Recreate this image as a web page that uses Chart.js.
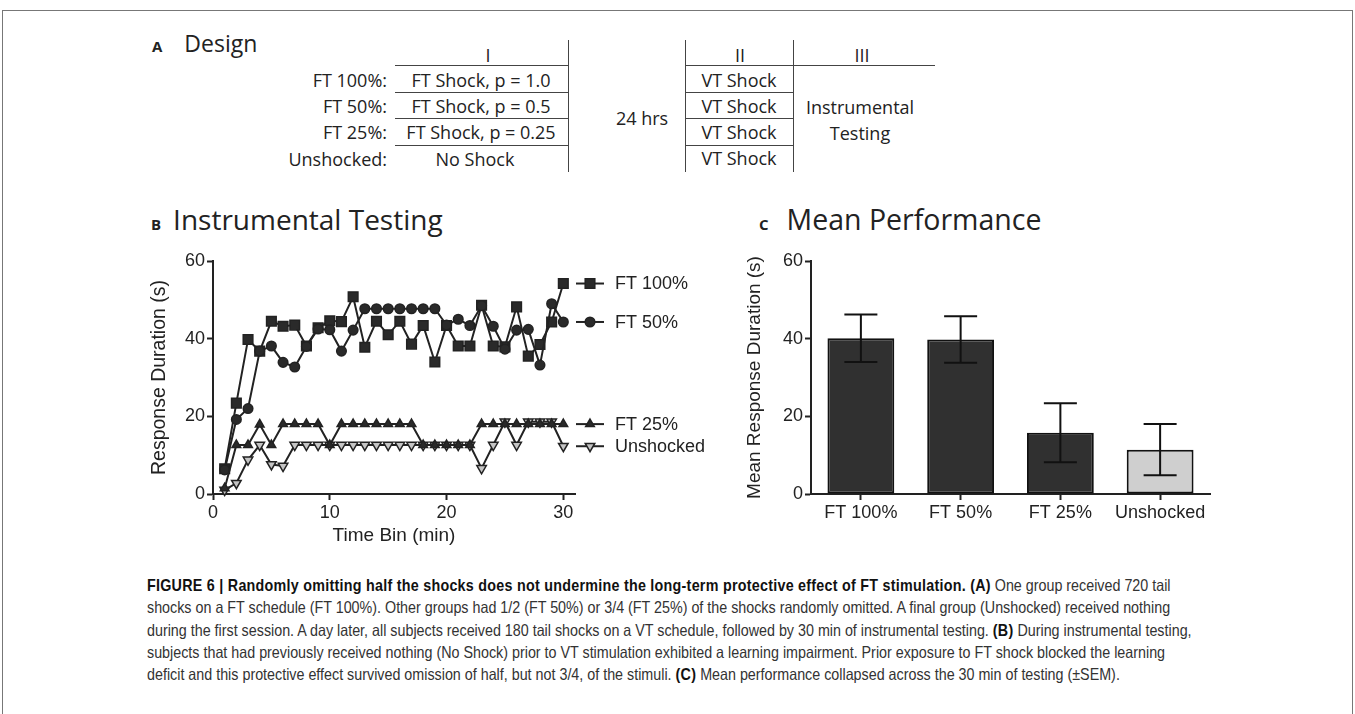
<!DOCTYPE html>
<html>
<head>
<meta charset="utf-8">
<script src="https://cdn.jsdelivr.net/npm/chart.js@4"></script>
<style>
 body { margin: 0; background: #fff; width: 1355px; height: 714px; overflow: hidden; position: relative; font-family: "Open Sans", sans-serif; color: #222; }
 .frame { position: absolute; left: 2px; top: 10px; width: 1349px; height: 720px; border: 1px solid #777; border-bottom: none; }
 .t { position: absolute; transform: translate(-50%, -50%); white-space: nowrap; font-size: 18px; }
 .r { position: absolute; transform: translate(-100%, -50%); white-space: nowrap; font-size: 18px; }
 .hl { position: absolute; height: 0; border-top: 1.5px solid #444; }
 .vl { position: absolute; width: 0; border-left: 1.5px solid #444; }
 .ptitle { position: absolute; white-space: nowrap; font-size: 28px; }
 .ptitle b { font-size: 15px; margin-right: 12px; }
 canvas { position: absolute; }
 .caption { position: absolute; left: 147px; top: 574px; font-family: "Liberation Sans Narrow", "Liberation Sans", sans-serif; font-size: 16.5px; line-height: 22.3px; color: #333; white-space: nowrap; transform: scaleX(0.867); transform-origin: 0 0; }
 .caption b { color: #111; letter-spacing: 0.3px; }
</style>
</head>
<body>
<div class="frame"></div>

<div class="ptitle" style="left:152px; top:27px; font-size:23px;"><b style="margin-right:22px;">A</b>Design</div>

<!-- design table -->
<div class="t" style="left:488px; top:55px;">I</div>
<div class="t" style="left:740px; top:55px;">II</div>
<div class="t" style="left:862px; top:55px;">III</div>

<div class="r" style="left:387px; top:80px;">FT 100%:</div>
<div class="r" style="left:387px; top:106px;">FT 50%:</div>
<div class="r" style="left:387px; top:132px;">FT 25%:</div>
<div class="r" style="left:387px; top:159px;">Unshocked:</div>

<div class="t" style="left:481px; top:80px;">FT Shock, p = 1.0</div>
<div class="t" style="left:481px; top:106px;">FT Shock, p = 0.5</div>
<div class="t" style="left:481px; top:132px;">FT Shock, p = 0.25</div>
<div class="t" style="left:475px; top:159px;">No Shock</div>

<div class="hl" style="left:395px; top:65px; width:173px;"></div>
<div class="hl" style="left:395px; top:92px; width:173px;"></div>
<div class="hl" style="left:395px; top:118px; width:173px;"></div>
<div class="hl" style="left:395px; top:145px; width:173px;"></div>
<div class="vl" style="left:568px; top:40px; height:132px;"></div>

<div class="t" style="left:642px; top:118px;">24 hrs</div>

<div class="vl" style="left:685px; top:40px; height:132px;"></div>
<div class="vl" style="left:793px; top:40px; height:132px;"></div>
<div class="hl" style="left:685px; top:65px; width:250px;"></div>
<div class="hl" style="left:685px; top:92px; width:108px;"></div>
<div class="hl" style="left:685px; top:118px; width:108px;"></div>
<div class="hl" style="left:685px; top:145px; width:108px;"></div>

<div class="t" style="left:739px; top:80px;">VT Shock</div>
<div class="t" style="left:739px; top:106px;">VT Shock</div>
<div class="t" style="left:739px; top:132px;">VT Shock</div>
<div class="t" style="left:739px; top:158px;">VT Shock</div>
<div class="t" style="left:860px; top:107px;">Instrumental</div>
<div class="t" style="left:860px; top:133px;">Testing</div>

<div class="ptitle" style="left:151px; top:200px;"><b>B</b>Instrumental Testing</div>
<div class="ptitle" style="left:759px; top:200px; font-size:28.5px;"><b style="margin-right:18px;">C</b>Mean Performance</div>

<canvas id="lineChart" style="left:130px; top:240px;" width="600" height="310"></canvas>
<canvas id="barChart" style="left:730px; top:240px;" width="500" height="310"></canvas>

<div class="caption">
<b>FIGURE 6 | Randomly omitting half the shocks does not undermine the long-term protective effect of FT stimulation. (A)</b> One group received 720 tail<br>
shocks on a FT schedule (FT 100%). Other groups had 1/2 (FT 50%) or 3/4 (FT 25%) of the shocks randomly omitted. A final group (Unshocked) received nothing<br>
during the first session. A day later, all subjects received 180 tail shocks on a VT schedule, followed by 30 min of instrumental testing. <b>(B)</b> During instrumental testing,<br>
subjects that had previously received nothing (No Shock) prior to VT stimulation exhibited a learning impairment. Prior exposure to FT shock blocked the learning<br>
deficit and this protective effect survived omission of half, but not 3/4, of the stimuli. <b>(C)</b> Mean performance collapsed across the 30 min of testing (&plusmn;SEM).
</div>

<script>
// panel B data (time bin in min, response duration in s)
const timeBins = [1, 2, 3, 4, 5, 6, 7, 8, 9, 10, 11, 12, 13, 14, 15, 16, 17, 18, 19, 20, 21, 22, 23, 24, 25, 26, 27, 28, 29, 30];
const ft100 = [6.5, 23.4, 39.8, 36.8, 44.5, 43.2, 43.5, 38.1, 42.8, 44.6, 44.4, 50.8, 37.8, 44.5, 41.0, 44.5, 38.6, 43.4, 34.0, 43.4, 38.1, 38.1, 48.6, 38.1, 37.9, 48.2, 35.5, 38.5, 44.3, 54.2];
const ft50 = [6.2, 19.2, 22.0, 36.8, 38.1, 33.9, 32.7, 38.0, 42.5, 42.3, 36.8, 42.2, 47.7, 47.7, 47.7, 47.7, 47.7, 47.7, 47.7, 43.5, 45.0, 43.4, 48.5, 43.2, 37.3, 42.2, 42.4, 33.2, 49.0, 44.3];
const ft25 = [1.5, 12.6, 12.6, 17.9, 12.6, 18.0, 18.0, 18.0, 18.0, 12.6, 18.0, 18.0, 18.0, 18.0, 18.0, 18.0, 18.0, 12.6, 12.6, 12.6, 12.6, 12.6, 18.0, 18.0, 18.0, 18.0, 18.0, 18.0, 18.0, 18.0];
const unshocked = [1.0, 2.8, 8.8, 12.6, 7.6, 7.2, 12.6, 12.6, 12.6, 12.6, 12.6, 12.6, 12.6, 12.6, 12.6, 12.6, 12.6, 12.6, 12.6, 12.6, 12.6, 12.6, 6.6, 12.6, 18.6, 12.6, 18.6, 18.6, 18.6, 12.3];

// panel C data
const groups = ['FT 100%', 'FT 50%', 'FT 25%', 'Unshocked'];
const meanDur = [40.1, 39.8, 15.8, 11.4];
const semDur = [6.1, 6.0, 7.6, 6.6];

const ink = '#222';
const fontFam = '"Liberation Sans", Arial, sans-serif';
Chart.defaults.font.family = fontFam;
Chart.defaults.font.size = 18;
Chart.defaults.color = ink;

function toPts(vals) {
 return timeBins.map((t, i) => ({ x: t, y: vals[i] }));
}

function axisStyle() {
 return {
  border: { display: true, color: ink, width: 2 },
  grid: { display: true, drawOnChartArea: false, drawTicks: true, tickLength: 6, tickWidth: 2, tickColor: ink }
 };
}

// legend drawn next to the last point of each series
const sideLegend = {
 id: 'sideLegend',
 afterDatasetsDraw(chart) {
  const ctx = chart.ctx;
  const yS = chart.scales.y;
  const x0 = chart.chartArea.right + 1;
  chart.data.datasets.forEach((ds) => {
   const last = ds.data[ds.data.length - 1].y;
   const y = yS.getPixelForValue(last);
   ctx.save();
   ctx.strokeStyle = ink;
   ctx.lineWidth = 2;
   ctx.beginPath();
   ctx.moveTo(x0, y);
   ctx.lineTo(x0 + 28, y);
   ctx.stroke();
   ctx.fillStyle = ds.pointBackgroundColor;
   ctx.strokeStyle = ink;
   ctx.lineWidth = 1.5;
   Chart.helpers.drawPoint(ctx, { pointStyle: ds.pointStyle, rotation: ds.pointRotation || 0, radius: ds.pointRadius, borderWidth: 1.5 }, x0 + 14, y);
   ctx.fillStyle = ink;
   ctx.font = '18px ' + fontFam;
   ctx.textBaseline = 'middle';
   ctx.fillText(ds.label, x0 + 39, y + 1);
   ctx.restore();
  });
 }
};

function series(label, vals, style, fill, radius, rot) {
 return {
  label: label,
  data: toPts(vals),
  borderColor: ink,
  borderWidth: 2,
  pointStyle: style,
  pointRotation: rot || 0,
  pointRadius: radius,
  pointBackgroundColor: fill,
  pointBorderColor: ink,
  pointBorderWidth: 1.5,
  tension: 0,
  clip: false
 };
}

new Chart(document.getElementById('lineChart'), {
 type: 'line',
 data: {
  datasets: [
   series('FT 25%', ft25, 'triangle', '#2a2a2a', 5),
   series('Unshocked', unshocked, 'triangle', '#c4c4c4', 5.5, 180),
   series('FT 50%', ft50, 'circle', '#2a2a2a', 4.8),
   series('FT 100%', ft100, 'rect', '#2a2a2a', 6.8)
  ]
 },
 options: {
  responsive: false,
  animation: false,
  layout: { padding: { left: 15, top: 21, right: 155, bottom: 0 } },
  plugins: { legend: { display: false }, tooltip: { enabled: false } },
  scales: {
   x: Object.assign(axisStyle(), {
    type: 'linear', min: 0, max: 31,
    ticks: { stepSize: 10, includeBounds: false, padding: 2, color: ink },
    title: { display: true, text: 'Time Bin (min)', font: { size: 19 }, color: ink, padding: { top: 2, bottom: 3 } },
    afterFit: (s) => { s.height = 56; }
   }),
   y: Object.assign(axisStyle(), {
    min: 0, max: 60,
    ticks: { stepSize: 20, padding: 2, color: ink },
    title: { display: true, text: 'Response Duration (s)', font: { size: 19.5 }, color: ink, padding: { top: 3, bottom: 2 } },
    afterFit: (s) => { s.width = 68; }
   })
  }
 },
 plugins: [sideLegend]
});

// error bars for panel C
const errorBars = {
 id: 'errorBars',
 afterDatasetsDraw(chart) {
  const ctx = chart.ctx;
  const meta = chart.getDatasetMeta(0);
  const yS = chart.scales.y;
  ctx.save();
  ctx.strokeStyle = '#111';
  ctx.lineWidth = 2;
  meta.data.forEach((bar, i) => {
   const x = bar.x;
   const yt = yS.getPixelForValue(meanDur[i] + semDur[i]);
   const yb = yS.getPixelForValue(meanDur[i] - semDur[i]);
   ctx.beginPath();
   ctx.moveTo(x, yt); ctx.lineTo(x, yb);
   ctx.moveTo(x - 16.5, yt); ctx.lineTo(x + 16.5, yt);
   ctx.moveTo(x - 16.5, yb); ctx.lineTo(x + 16.5, yb);
   ctx.stroke();
  });
  ctx.restore();
 }
};

const barAxis = axisStyle();
barAxis.grid.offset = false;

new Chart(document.getElementById('barChart'), {
 type: 'bar',
 data: {
  labels: groups,
  datasets: [{
   data: meanDur,
   backgroundColor: ['#303030', '#303030', '#303030', '#cfcfcf'],
   borderColor: '#111',
   borderWidth: 2,
   borderSkipped: false,
   categoryPercentage: 1,
   barPercentage: 0.67
  }]
 },
 options: {
  responsive: false,
  animation: false,
  layout: { padding: { left: 10, top: 21, right: 20, bottom: 0 } },
  plugins: { legend: { display: false }, tooltip: { enabled: false } },
  scales: {
   x: Object.assign(barAxis, {
    ticks: { padding: 2, color: ink },
    afterFit: (s) => { s.height = 56; }
   }),
   y: Object.assign(axisStyle(), {
    min: 0, max: 60,
    ticks: { stepSize: 20, padding: 2, color: ink },
    title: { display: true, text: 'Mean Response Duration (s)', font: { size: 19 }, color: ink, padding: { top: 3, bottom: 2 } },
    afterFit: (s) => { s.width = 71; }
   })
  }
 },
 plugins: [errorBars]
});
</script>
</body>
</html>
